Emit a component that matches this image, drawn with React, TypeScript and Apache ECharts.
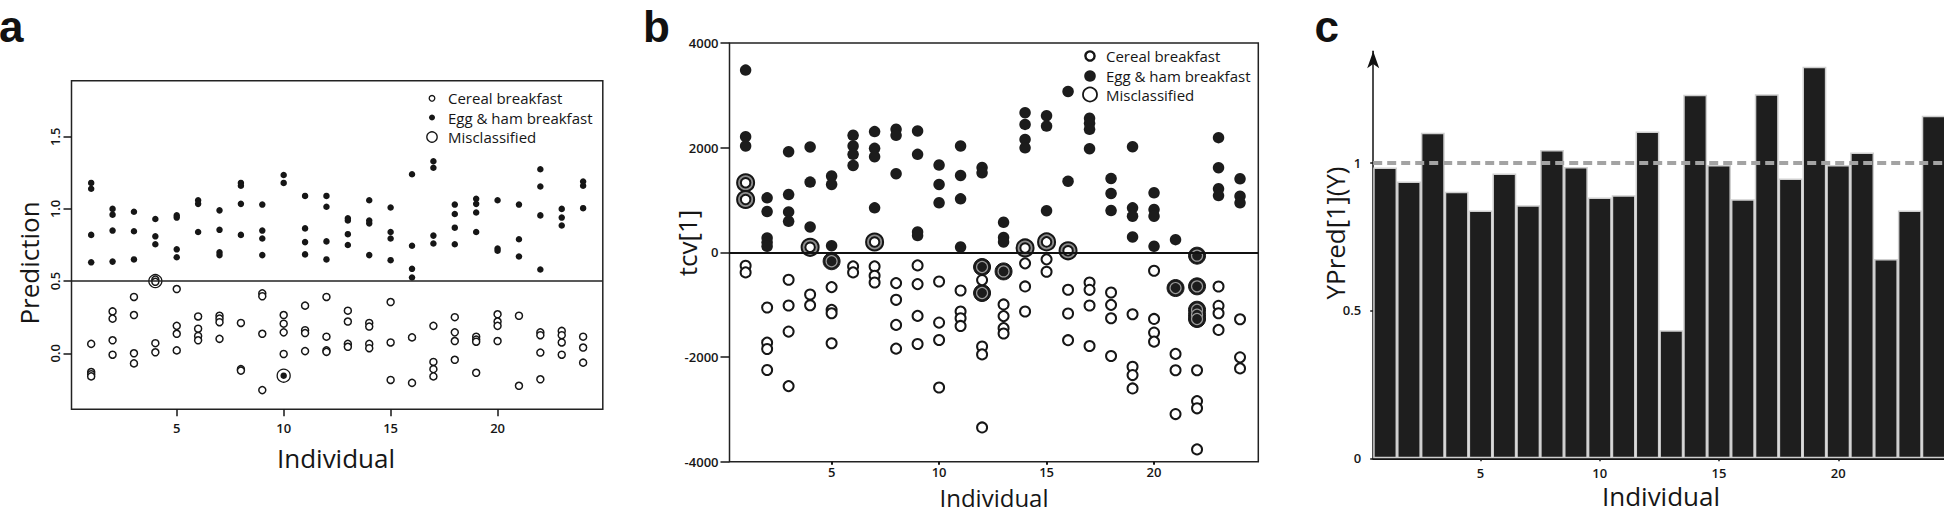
import React, { useEffect, useRef } from "react";
import * as echarts from "echarts";

// ---------- shared categories / ticks ----------
const individuals = ["1", "2", "3", "4", "5", "6", "7", "8", "9", "10", "11", "12", "13", "14", "15", "16", "17", "18", "19", "20", "21", "22", "23", "24"];
const labeledIndividuals = ["5", "10", "15", "20"];
const xTicks = [5, 10, 15, 20];
const aTicksY = [0, 0.5, 1, 1.5];
const cTicksY = [0, 0.5, 1];
const aThreshold = 0.5;
const bThreshold = 0;
const cThreshold = 1;

// ---------- panel a: Prediction ----------
const aCereal: [number, number][] = [
  [1, 0.065], [1, -0.13], [1, -0.145], [1, -0.16],
  [2, 0.29], [2, 0.24], [2, 0.09], [2, -0.01],
  [3, 0.39], [3, 0.265], [3, 0.0], [3, -0.07],
  [4, 0.51], [4, 0.495], [4, 0.07], [4, 0.007],
  [5, 0.445], [5, 0.19], [5, 0.135], [5, 0.02],
  [6, 0.255], [6, 0.17], [6, 0.12], [6, 0.09],
  [7, 0.26], [7, 0.24], [7, 0.215], [7, 0.1],
  [8, 0.21], [8, -0.11], [8, -0.12],
  [9, 0.415], [9, 0.395], [9, 0.135], [9, -0.255],
  [10, 0.265], [10, 0.205], [10, 0.145], [10, -0.005],
  [11, 0.33], [11, 0.16], [11, 0.14], [11, 0.015],
  [12, 0.39], [12, 0.115], [12, 0.02], [12, 0.01],
  [13, 0.295], [13, 0.22], [13, 0.065], [13, 0.045],
  [14, 0.21], [14, 0.185], [14, 0.065], [14, 0.035],
  [15, 0.355], [15, 0.075], [15, -0.185],
  [16, 0.11], [16, -0.205],
  [17, 0.19], [17, -0.06], [17, -0.11], [17, -0.16],
  [18, 0.25], [18, 0.145], [18, 0.085], [18, -0.045],
  [19, 0.115], [19, 0.095], [19, 0.08], [19, -0.135],
  [20, 0.27], [20, 0.22], [20, 0.19], [20, 0.085],
  [21, 0.26], [21, -0.225],
  [22, 0.145], [22, 0.125], [22, 0.005], [22, -0.18],
  [23, 0.155], [23, 0.125], [23, 0.075], [23, -0.01],
  [24, 0.115], [24, 0.04], [24, -0.065],
];
const aEggHam: [number, number][] = [
  [1, 1.18], [1, 1.14], [1, 0.82], [1, 0.63],
  [2, 1.0], [2, 0.96], [2, 0.85], [2, 0.635],
  [3, 0.98], [3, 0.845], [3, 0.65],
  [4, 0.93], [4, 0.81], [4, 0.755],
  [5, 0.955], [5, 0.94], [5, 0.72], [5, 0.665],
  [6, 1.06], [6, 1.035], [6, 0.84],
  [7, 0.99], [7, 0.855], [7, 0.7], [7, 0.68],
  [8, 1.18], [8, 1.16], [8, 1.035], [8, 0.82],
  [9, 1.03], [9, 0.85], [9, 0.795], [9, 0.68],
  [10, 1.235], [10, 1.18], [10, -0.155],
  [11, 1.09], [11, 0.865], [11, 0.77], [11, 0.685],
  [12, 1.09], [12, 1.015], [12, 0.775], [12, 0.65],
  [13, 0.935], [13, 0.92], [13, 0.825], [13, 0.75],
  [14, 1.06], [14, 0.92], [14, 0.9], [14, 0.68],
  [15, 1.01], [15, 0.84], [15, 0.795], [15, 0.645],
  [16, 1.24], [16, 0.745], [16, 0.585], [16, 0.525],
  [17, 1.33], [17, 1.285], [17, 0.815], [17, 0.76],
  [18, 1.03], [18, 0.965], [18, 0.87], [18, 0.755],
  [19, 1.07], [19, 1.035], [19, 0.975], [19, 0.84],
  [20, 1.06], [20, 0.725], [20, 0.71],
  [21, 1.03], [21, 0.79], [21, 0.67],
  [22, 1.275], [22, 1.155], [22, 0.955], [22, 0.58],
  [23, 1.0], [23, 0.94], [23, 0.885],
  [24, 1.19], [24, 1.16], [24, 1.005],
];
const aMisclassified: [number, number][] = [[4, 0.5], [10, -0.155]];

// ---------- panel b: tcv[1] ----------
const bCereal: [number, number][] = [
  [1, -256], [1, -383],
  [2, -1054], [2, -1725], [2, -1846], [2, -2249],
  [3, -524], [3, -1016], [3, -1514], [3, -2556],
  [4, -805], [4, -1010],
  [5, -664], [5, -1099], [5, -1163], [5, -1738],
  [6, -268], [6, -383],
  [7, -268], [7, -447], [7, -575],
  [8, -588], [8, -907], [8, -1386], [8, -1840],
  [9, -249], [9, -607], [9, -1214], [9, -1751],
  [10, -556], [10, -1342], [10, -1674], [10, -2582],
  [11, -728], [11, -1131], [11, -1259], [11, -1406],
  [12, -530], [12, -1800], [12, -1950], [12, -3345],
  [13, -995], [13, -1218], [13, -1448], [13, -1550],
  [14, -210], [14, -651], [14, -1130],
  [15, -134], [15, -370],
  [16, -715], [16, -1168], [16, -1678],
  [17, -575], [17, -716], [17, -1016], [17, -1789],
  [18, -767], [18, -1003], [18, -1259], [18, -1981],
  [19, -1182], [19, -2185], [19, -2345], [19, -2600],
  [20, -351], [20, -1272], [20, -1533], [20, -1706],
  [21, -1940], [21, -2253], [21, -3090],
  [22, -2253], [22, -2842], [22, -2980], [22, -3765],
  [23, -652], [23, -1022], [23, -1163], [23, -1482],
  [24, -1278], [24, -2006], [24, -2217],
];
const bEggHam: [number, number][] = [
  [1, 3482], [1, 2211], [1, 2032],
  [2, 1041], [2, 779], [2, 275], [2, 192], [2, 115],
  [3, 1923], [3, 1105], [3, 773], [3, 594],
  [4, 2013], [4, 1342], [4, 486],
  [5, 1457], [5, 1297], [5, 128],
  [6, 2237], [6, 2032], [6, 1872], [6, 1661],
  [7, 2307], [7, 1987], [7, 1827], [7, 850],
  [8, 2351], [8, 2237], [8, 1502],
  [9, 2320], [9, 1872], [9, 390], [9, 320],
  [10, 1668], [10, 1297], [10, 946],
  [11, 2032], [11, 1470], [11, 1022], [11, 102],
  [12, 1620], [12, 1520],
  [13, 575], [13, 284], [13, 198],
  [14, 2668], [14, 2445], [14, 2158], [14, 1998],
  [15, 2610], [15, 2412], [15, 795],
  [16, 3075], [16, 1359],
  [17, 2562], [17, 2466], [17, 2351], [17, 1981],
  [18, 1412], [18, 1125], [18, 799],
  [19, 2019], [19, 850], [19, 690], [19, 294],
  [20, 1137], [20, 818], [20, 690], [20, 115],
  [21, 243],
  [23, 2192], [23, 1617], [23, 1214], [23, 1086],
  [24, 1406], [24, 1073], [24, 946],
];
const bMisCereal: [number, number][] = [[1, 1329], [1, 1010], [4, 96], [7, 198], [14, 84], [15, 200], [16, 30]];
const bMisEggHam: [number, number][] = [
  [5, -170], [12, -280], [12, -777], [13, -364], [21, -682],
  [22, -63], [22, -650], [22, -1096], [22, -1191], [22, -1274],
];

// ---------- panel c: YPred[1](Y) ----------
const cValues = [0.984, 0.936, 1.101, 0.902, 0.838, 0.963, 0.856, 1.043, 0.985, 0.882, 0.89, 1.105, 0.433, 1.23, 0.992, 0.876, 1.231, 0.946, 1.324, 0.992, 1.034, 0.674, 0.838, 1.159];

const FONT = '"Open Sans", "DejaVu Sans", sans-serif';
const INK = "#161616";

export default function App() {
  const ref = useRef<HTMLDivElement>(null);

  useEffect(() => {
    if (!ref.current) return;
    const chart = echarts.init(ref.current, null, { renderer: "svg" });

    const tickLabel = { color: INK, fontSize: 13, fontFamily: FONT, fontWeight: 600 };
    const tickLine = { color: INK, width: 1.5 };
    const showLabeled = (_i: number, v: string) => labeledIndividuals.includes(v);

    const title = (text: string, x: number, y: number, rotated = false, size = 26) => ({
      type: "text",
      x,
      y,
      rotation: rotated ? Math.PI / 2 : 0,
      style: { text, fontSize: size, fontFamily: FONT, fill: INK, align: "center", verticalAlign: "middle" },
    });
    const letter = (text: string, x: number) => ({
      type: "text",
      x,
      y: 26.5,
      style: { text, fontSize: 44, fontWeight: "bold", fontFamily: '"Liberation Sans", Arial, sans-serif', fill: "#111", align: "left", verticalAlign: "middle" },
    });
    const legText = (text: string, x: number, y: number) => ({
      type: "text",
      x,
      y,
      style: { text, fontSize: 15, fontFamily: FONT, fill: INK, align: "left", verticalAlign: "middle" },
    });
    const dot = (cx: number, cy: number, r: number, fill: string, stroke: string, lineWidth: number) => ({
      type: "circle",
      shape: { cx, cy, r },
      style: { fill, stroke, lineWidth },
    });
    const pts = (xi: number, data: [number, number][], size: number, itemStyle: any, extra: any = {}) => ({
      type: "scatter",
      xAxisIndex: xi,
      yAxisIndex: xi,
      data,
      symbol: "circle",
      symbolSize: size,
      itemStyle: { opacity: 1, ...itemStyle },
      emphasis: { disabled: true },
      ...extra,
    });
    const hline = (y: number, color: string, width: number, type: any) => ({
      silent: true,
      symbol: ["none", "none"],
      label: { show: false },
      lineStyle: { color, width, type, opacity: 1 },
      emphasis: { disabled: true },
      data: [{ yAxis: y }],
    });

    const option: any = {
      animation: false,
      grid: [
        { left: 71.5, top: 80.7, width: 531.3, height: 328.6, show: true, borderColor: "#222", borderWidth: 1.5, backgroundColor: "transparent", containLabel: false, outerBoundsMode: "none" },
        { left: 729.5, top: 43, width: 528.8, height: 418.7, show: true, borderColor: "#222", borderWidth: 1.5, backgroundColor: "transparent", containLabel: false, outerBoundsMode: "none" },
        { left: 1373.2, top: 51.2, width: 572.4, height: 407.1, show: false, containLabel: false, outerBoundsMode: "none" },
      ],
      xAxis: [
        {
          gridIndex: 0, type: "value", min: 0.08, max: 24.92,
          axisLine: { show: false, onZero: false },
          axisTick: { show: true, customValues: xTicks, length: 7, lineStyle: tickLine },
          axisLabel: { ...tickLabel, customValues: xTicks, margin: 12 },
          splitLine: { show: false },
        },
        {
          gridIndex: 1, type: "value", min: 0.25, max: 24.85,
          axisLine: { show: false, onZero: false },
          axisTick: { show: true, customValues: xTicks, length: 3, lineStyle: { color: INK, width: 2 } },
          axisLabel: { ...tickLabel, customValues: xTicks, margin: 4 },
          splitLine: { show: false },
        },
        {
          gridIndex: 2, type: "category", data: individuals,
          axisLine: { show: true, onZero: false, lineStyle: { color: "#111", width: 2 } },
          axisTick: { show: true, alignWithLabel: true, interval: showLabeled, length: 3, lineStyle: { color: INK, width: 1.5 } },
          axisLabel: { ...tickLabel, interval: showLabeled, margin: 8 },
          splitLine: { show: false },
        },
      ],
      yAxis: [
        {
          gridIndex: 0, type: "value", min: -0.388, max: 1.888,
          axisLine: { show: false, onZero: false },
          axisTick: { show: true, customValues: aTicksY, length: 8, lineStyle: tickLine },
          axisLabel: { ...tickLabel, customValues: aTicksY, rotate: 90, margin: 10, formatter: (v: number) => v.toFixed(1) },
          splitLine: { show: false },
        },
        {
          gridIndex: 1, type: "value", min: -4000, max: 4000, interval: 2000,
          axisLine: { show: false, onZero: false },
          axisTick: { show: true, length: 9, lineStyle: tickLine },
          axisLabel: { ...tickLabel, margin: 11, formatter: (v: number) => String(v) },
          splitLine: { show: false },
        },
        {
          gridIndex: 2, type: "value", min: 0, max: 1.377,
          axisLine: { show: true, onZero: false, symbol: ["none", "arrow"], symbolSize: [9, 17], lineStyle: { color: "#111", width: 1.5 } },
          axisTick: { show: true, customValues: cTicksY, length: 3, lineStyle: tickLine },
          axisLabel: { ...tickLabel, customValues: cTicksY, margin: 12, formatter: (v: number) => String(v) },
          splitLine: { show: false },
        },
      ],
      series: [
        // ----- panel a -----
        pts(0, aMisclassified, 13, { color: "#fff", borderColor: INK, borderWidth: 1.3 }, { markLine: hline(aThreshold, "#222", 1.5, "solid") }),
        pts(0, aCereal, 7, { color: "#fff", borderColor: INK, borderWidth: 1.5 }),
        pts(0, aEggHam, 6.5, { color: INK }),
        // ----- panel b -----
        pts(1, bMisCereal, 17, { color: "#8c8c8c", borderColor: INK, borderWidth: 2 }, { markLine: hline(bThreshold, "#111", 2, "solid") }),
        pts(1, bMisEggHam, 17, { color: "#1c1c1c", borderColor: INK, borderWidth: 1 }),
        pts(1, bCereal, 10, { color: "#fff", borderColor: INK, borderWidth: 2 }),
        pts(1, bEggHam, 11.5, { color: "#1c1c1c" }),
        pts(1, bMisCereal, 9.5, { color: "#fff", borderColor: INK, borderWidth: 2 }),
        pts(1, bMisEggHam, 11, { color: "#1c1c1c", borderColor: "#9a9a9a", borderWidth: 1.2 }),
        // ----- panel c -----
        {
          type: "bar", xAxisIndex: 2, yAxisIndex: 2, data: cValues, barWidth: "100%", barCategoryGap: 0,
          itemStyle: { color: "#1e1e1e", borderColor: "#cfcfcf", borderWidth: 1.5, opacity: 1 },
          emphasis: { disabled: true },
          markLine: hline(cThreshold, "#a3a3a3", 4, [9, 5]),
        },
      ],
      graphic: {
        elements: [
          letter("a", -1),
          letter("b", 643),
          letter("c", 1314.5),
          title("Prediction", 28.6, 263, true),
          title("Individual", 336, 458),
          title("tcv[1]", 687.4, 243, true),
          title("Individual", 994, 497, false, 24),
          title("YPred[1](Y)", 1335, 233, true),
          title("Individual", 1661, 496),
          // legend a
          dot(432, 98.3, 2.8, "#fff", INK, 1.3),
          dot(432, 117.5, 3, INK, INK, 0),
          dot(432, 137, 5.2, "#fff", INK, 1.3),
          legText("Cereal breakfast", 448, 98),
          legText("Egg & ham breakfast", 448, 117.5),
          legText("Misclassified", 448, 137),
          // legend b
          dot(1090, 56, 4.6, "#fff", INK, 2.4),
          dot(1090, 76, 5.8, "#1c1c1c", "#1c1c1c", 0),
          dot(1090, 94.5, 7, "#fff", INK, 1.8),
          legText("Cereal breakfast", 1106, 56),
          legText("Egg & ham breakfast", 1106, 76),
          legText("Misclassified", 1106, 94.5),
        ],
      },
    };

    chart.setOption(option);
    return () => chart.dispose();
  }, []);

  return <div ref={ref} style={{ position: "fixed", left: 0, top: 0, width: 1944, height: 513, background: "#fff" }} />;
}
